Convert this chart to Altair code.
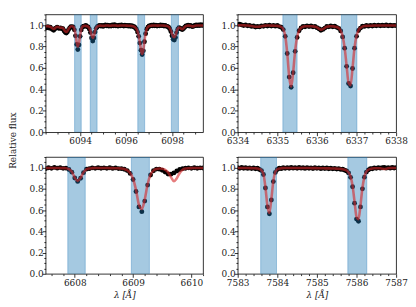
import altair as alt
import numpy as np
import pandas as pd

# ---------------- data ----------------
# Panel 1 : 6092.50 .. 6099.35, step 0.05
lam1_start, lam1_n = 6092.50, 138
model1 = [
    0.988, 0.990, 0.989, 0.987, 0.984, 0.978, 0.970, 0.965, 0.970, 0.980,
    0.985, 0.983, 0.978, 0.975, 0.978, 0.972, 0.958, 0.942, 0.935, 0.945,
    0.965, 0.980, 0.988, 0.990, 0.985, 0.965, 0.915, 0.845, 0.800, 0.835,
    0.905, 0.960, 0.985, 0.992, 0.994, 0.993, 0.990, 0.985, 0.972, 0.945,
    0.905, 0.880, 0.900, 0.945, 0.975, 0.988, 0.993, 0.995, 0.995, 0.994,
    0.993, 0.994, 0.996, 0.997, 0.996, 0.995, 0.994, 0.995, 0.996, 0.997,
    0.997, 0.996, 0.995, 0.994, 0.995, 0.996, 0.997, 0.997, 0.996, 0.996,
    0.995, 0.995, 0.994, 0.994, 0.993, 0.992, 0.990, 0.986, 0.978, 0.965,
    0.940, 0.900, 0.840, 0.770, 0.730, 0.765, 0.850, 0.925, 0.965, 0.982,
    0.990, 0.994, 0.995, 0.996, 0.997, 0.997, 0.996, 0.995, 0.995, 0.996,
    0.997, 0.997, 0.996, 0.995, 0.994, 0.993, 0.990, 0.984, 0.972, 0.950,
    0.920, 0.895, 0.888, 0.905, 0.940, 0.968, 0.978, 0.975, 0.966, 0.962,
    0.970, 0.982, 0.990, 0.994, 0.995, 0.995, 0.993, 0.990, 0.988, 0.990,
    0.994, 0.996, 0.997, 0.997, 0.996, 0.996, 0.997, 0.997,
]
obs1 = [
    0.980, 0.974, 0.986, 0.973, 0.981, 0.967, 0.960, 0.952, 0.966, 0.972,
    0.981, 0.973, 0.969, 0.974, 0.968, 0.966, 0.948, 0.933, 0.926, 0.938,
    0.958, 0.974, 0.985, 0.984, 0.983, 0.956, 0.900, 0.820, 0.772, 0.815,
    0.895, 0.955, 0.982, 0.991, 0.989, 0.996, 0.986, 0.983, 0.964, 0.930,
    0.880, 0.852, 0.880, 0.935, 0.970, 0.985, 0.993, 0.997, 0.991, 0.998,
    0.988, 0.996, 1.001, 0.993, 0.999, 0.990, 0.997, 0.992, 1.001, 0.994,
    1.003, 0.993, 0.998, 0.990, 0.999, 0.993, 1.002, 0.995, 0.992, 1.000,
    0.993, 0.998, 0.990, 0.997, 0.989, 0.995, 0.987, 0.985, 0.975, 0.962,
    0.935, 0.895, 0.832, 0.765, 0.726, 0.760, 0.845, 0.920, 0.962, 0.980,
    0.992, 0.992, 0.999, 0.993, 1.001, 0.994, 0.999, 0.992, 0.998, 0.993,
    1.002, 0.995, 0.999, 0.992, 0.997, 0.990, 0.988, 0.980, 0.966, 0.940,
    0.900, 0.868, 0.860, 0.885, 0.930, 0.962, 0.975, 0.972, 0.963, 0.958,
    0.968, 0.980, 0.992, 0.993, 0.999, 0.992, 0.997, 0.989, 0.986, 0.992,
    0.996, 1.001, 0.995, 1.002, 0.996, 1.003, 0.997, 1.002,
]
bands1 = [(6093.76, 6094.05), (6094.44, 6094.74), (6096.51, 6096.81), (6097.97, 6098.28)]

# Panel 2 : 6334.00 .. 6338.00, step 0.05
lam2_start, lam2_n = 6334.00, 81
model2 = [
    0.998, 0.998, 0.999, 0.998, 0.997, 0.996, 0.994, 0.991, 0.988, 0.985,
    0.984, 0.986, 0.990, 0.993, 0.995, 0.996, 0.996, 0.995, 0.995, 0.994,
    0.993, 0.990, 0.982, 0.962, 0.900, 0.740, 0.520, 0.425, 0.560, 0.760,
    0.890, 0.950, 0.975, 0.985, 0.989, 0.990, 0.990, 0.989, 0.988, 0.985,
    0.979, 0.968, 0.958, 0.962, 0.975, 0.984, 0.988, 0.989, 0.988, 0.986,
    0.982, 0.972, 0.950, 0.895, 0.790, 0.620, 0.460, 0.440, 0.600, 0.790,
    0.900, 0.952, 0.975, 0.986, 0.991, 0.993, 0.994, 0.994, 0.995, 0.996,
    0.996, 0.996, 0.997, 0.997, 0.997, 0.997, 0.997, 0.996, 0.996, 0.996,
    0.996,
]
obs2 = [
    1.005, 1.009, 1.002, 0.996, 1.002, 0.993, 0.998, 0.988, 0.992, 0.982,
    0.987, 0.983, 0.993, 0.989, 0.998, 0.992, 0.999, 0.991, 0.997, 0.990,
    0.996, 0.986, 0.980, 0.958, 0.895, 0.735, 0.515, 0.420, 0.555, 0.755,
    0.885, 0.947, 0.973, 0.988, 0.985, 0.993, 0.987, 0.992, 0.984, 0.988,
    0.976, 0.966, 0.952, 0.960, 0.972, 0.987, 0.984, 0.992, 0.985, 0.989,
    0.979, 0.970, 0.946, 0.890, 0.785, 0.615, 0.455, 0.432, 0.595, 0.785,
    0.895, 0.950, 0.972, 0.989, 0.988, 0.996, 0.990, 0.997, 0.992, 0.999,
    0.993, 1.000, 0.994, 0.999, 0.995, 1.001, 0.993, 0.999, 0.994, 0.998,
    0.995,
]
bands2 = [(6335.14, 6335.50), (6336.62, 6337.01)]

# Panel 3 : 6607.50 .. 6610.20, step 0.05
lam3_start, lam3_n = 6607.50, 55
model3 = [
    0.996, 0.996, 0.997, 0.997, 0.996, 0.996, 0.995, 0.993, 0.985, 0.960,
    0.905, 0.875, 0.905, 0.955, 0.983, 0.992, 0.995, 0.996, 0.996, 0.996,
    0.996, 0.996, 0.995, 0.995, 0.994, 0.993, 0.991, 0.986, 0.975, 0.950,
    0.895, 0.790, 0.650, 0.610, 0.700, 0.845, 0.935, 0.972, 0.987, 0.992,
    0.990, 0.980, 0.955, 0.910, 0.872, 0.900, 0.950, 0.980, 0.991, 0.994,
    0.995, 0.996, 0.996, 0.996, 0.996,
]
obs3 = [
    0.990, 0.999, 0.993, 1.002, 0.995, 1.000, 0.993, 0.995, 0.982, 0.957,
    0.902, 0.870, 0.900, 0.952, 0.985, 0.990, 0.998, 0.993, 0.999, 0.994,
    0.998, 0.993, 0.999, 0.992, 0.997, 0.991, 0.990, 0.984, 0.972, 0.945,
    0.888, 0.775, 0.630, 0.585, 0.685, 0.835, 0.930, 0.970, 0.986, 0.985,
    0.975, 0.958, 0.940, 0.938, 0.950, 0.968, 0.982, 0.990, 0.994, 0.998,
    0.993, 0.999, 0.994, 0.998, 0.996,
]
bands3 = [(6607.88, 6608.18), (6608.97, 6609.28)]

# Panel 4 : 7583.00 .. 7587.00, step 0.05
lam4_start, lam4_n = 7583.00, 81
model4 = [
    0.997, 0.997, 0.997, 0.996, 0.996, 0.996, 0.995, 0.995, 0.994, 0.993,
    0.991, 0.986, 0.975, 0.940, 0.815, 0.640, 0.572, 0.705, 0.875, 0.960,
    0.984, 0.991, 0.994, 0.995, 0.996, 0.996, 0.997, 0.997, 0.997, 0.997,
    0.997, 0.997, 0.997, 0.996, 0.996, 0.996, 0.996, 0.995, 0.995, 0.995,
    0.995, 0.994, 0.994, 0.994, 0.993, 0.993, 0.993, 0.992, 0.992, 0.991,
    0.990, 0.989, 0.988, 0.985, 0.980, 0.972, 0.955, 0.915, 0.830, 0.680,
    0.535, 0.515, 0.645, 0.810, 0.915, 0.962, 0.980, 0.988, 0.991, 0.993,
    0.994, 0.994, 0.993, 0.990, 0.986, 0.989, 0.994, 0.996, 0.997, 0.997,
    0.997,
]
obs4 = [
    1.000, 0.993, 1.001, 0.994, 0.999, 0.992, 0.998, 0.991, 0.997, 0.989,
    0.994, 0.982, 0.972, 0.935, 0.808, 0.630, 0.565, 0.695, 0.868, 0.955,
    0.982, 0.994, 0.990, 0.999, 0.993, 1.000, 0.994, 1.002, 0.995, 1.000,
    0.993, 1.001, 0.995, 0.999, 0.992, 1.000, 0.994, 0.998, 0.991, 0.999,
    0.993, 0.998, 0.990, 0.997, 0.991, 0.996, 0.989, 0.995, 0.988, 0.993,
    0.986, 0.991, 0.983, 0.984, 0.976, 0.968, 0.950, 0.908, 0.820, 0.665,
    0.515, 0.495, 0.630, 0.800, 0.910, 0.958, 0.978, 0.991, 0.989, 0.997,
    0.993, 1.000, 0.995, 0.999, 1.001, 0.995, 1.000, 0.995, 1.001, 0.996,
    1.000,
]
bands4 = [(7583.58, 7583.98), (7585.78, 7586.26)]

STEP = 0.05
FONT = "DejaVu Serif"
FS = 9


def grid(start, n):
    return np.round(start + STEP * np.arange(n), 2)


def panel(lam, obs, model, bands, xdom, major, minor, w, h, xtitle=False, ytitle=False):
    df = pd.DataFrame({"lam": lam, "obs": obs, "model": model})
    bdf = pd.DataFrame(bands, columns=["lo", "hi"])
    first = np.ceil(xdom[0] / minor - 1e-9) * minor
    xvals = [float(v) for v in np.round(np.arange(first, xdom[1] + 1e-9, minor), 3)]
    xtest = f"abs(datum.value/{major} - round(datum.value/{major})) < 0.001"
    xkw = dict(
        values=xvals,
        labelExpr=f"{xtest} ? format(datum.value, 'd') : ''",
        tickSize={"condition": {"test": xtest, "value": 3.5}, "value": 1.8},
        labelOverlap=False,
        labelFlush=False,
        labelPadding=1,
        labelFont=FONT,
        labelFontSize=FS,
    )
    if xtitle:
        xkw.update(title="λ [Å]", titleFontStyle="italic", titlePadding=3,
                   titleFont=FONT, titleFontSize=FS)
    else:
        xkw.update(title=None)
    xaxis = alt.Axis(**xkw)

    yvals = [float(v) for v in np.round(np.arange(0, 1.1 + 1e-9, 0.05), 3)]
    ytest = "abs(datum.value*5 - round(datum.value*5)) < 0.001"
    ykw = dict(
        values=yvals,
        labelExpr=f"{ytest} ? format(datum.value, '.1f') : ''",
        tickSize={"condition": {"test": ytest, "value": 3.5}, "value": 1.8},
        labelOverlap=False,
        labelFlush=False,
        labelPadding=-1,
        labelFont=FONT,
        labelFontSize=FS,
    )
    if ytitle:
        ykw.update(title="Relative flux", titleX=-28, titleY=127, titleBaseline="bottom",
                   titleAngle=270, titleFont=FONT, titleFontSize=FS)
    else:
        ykw.update(title=None)
    yaxis = alt.Axis(**ykw)

    xs = alt.Scale(domain=list(xdom), nice=False, zero=False)
    ys = alt.Scale(domain=[0, 1.1], nice=False, zero=False)

    pts = alt.Chart(df).mark_circle(size=24, color="black", opacity=1, clip=True).encode(
        x=alt.X("lam:Q", scale=xs, axis=xaxis),
        y=alt.Y("obs:Q", scale=ys, axis=yaxis),
    )
    rect = alt.Chart(bdf).mark_rect(
        fill="#1f77b4", fillOpacity=0.4, stroke="#1f77b4", strokeOpacity=0.45,
        strokeWidth=0.8, clip=True,
    ).encode(
        x=alt.X("lo:Q", scale=xs, axis=xaxis),
        x2="hi:Q",
        y=alt.value(0),
        y2=alt.value(h),
    )
    line = alt.Chart(df).mark_line(
        color="#d62728", opacity=0.6, strokeWidth=2.6, interpolate="monotone", clip=True
    ).encode(
        x=alt.X("lam:Q", scale=xs, axis=xaxis),
        y=alt.Y("model:Q", scale=ys, axis=yaxis),
    )
    return alt.layer(pts, rect, line).properties(width=w, height=h)


p1 = panel(grid(lam1_start, lam1_n), obs1, model1, bands1, (6092.5, 6099.35), 2, 0.5,
           159, 119, ytitle=True)
p2 = panel(grid(lam2_start, lam2_n), obs2, model2, bands2, (6334.0, 6338.0), 1, 0.2,
           160, 119)
p3 = panel(grid(lam3_start, lam3_n), obs3, model3, bands3, (6607.5, 6610.2), 1, 0.2,
           159, 118, xtitle=True)
p4 = panel(grid(lam4_start, lam4_n), obs4, model4, bands4, (7583.0, 7587.0), 1, 0.2,
           160, 118, xtitle=True)

chart = alt.concat(p1, p2, p3, p4, columns=2).properties(
    spacing={"row": 25, "column": 35},
    bounds="flush",
    padding=0,
).configure(
    font=FONT
).configure_view(
    stroke="black", strokeWidth=0.8
).configure_axis(
    grid=False,
    domain=False,
    tickColor="black",
    tickWidth=0.8,
    labelColor="#222222",
    titleFontWeight="normal",
    titleColor="#222222",
)

chart.save("out.html", embed_options={"renderer": "svg", "actions": False})
